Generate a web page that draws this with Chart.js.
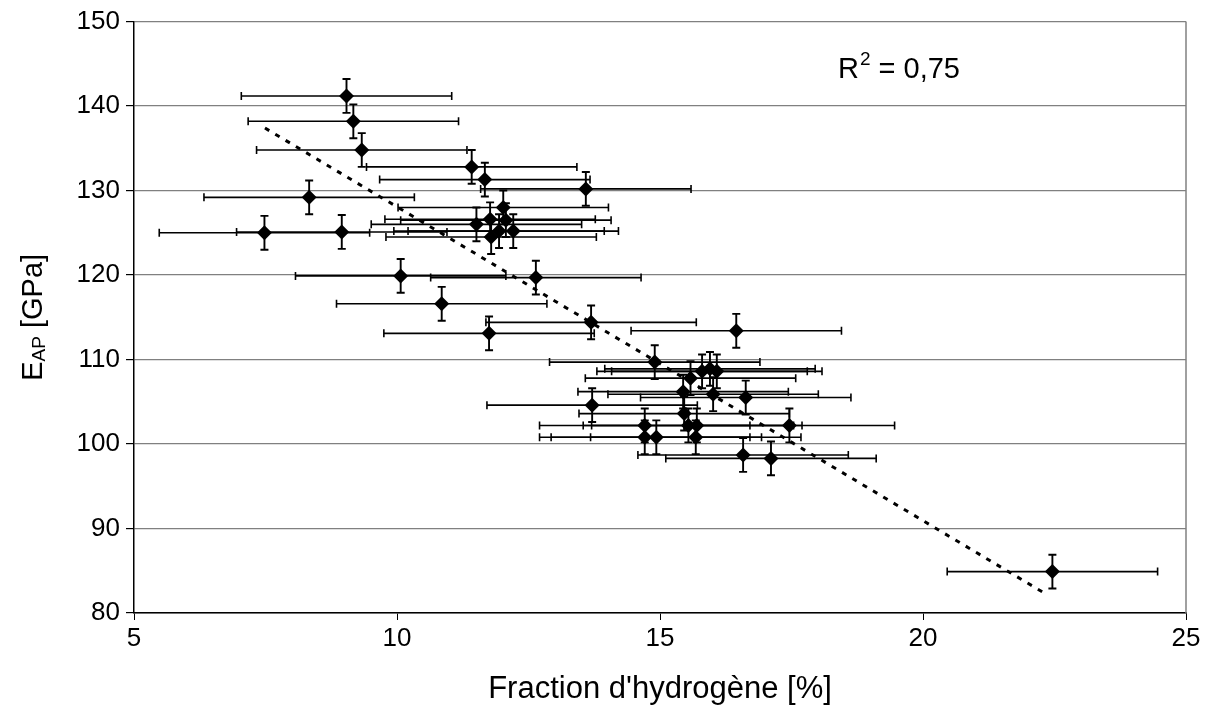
<!DOCTYPE html>
<html lang="fr">
<head>
  <meta charset="UTF-8">
  <title>Module E_AP vs fraction d'hydrogène</title>
  <script src="https://cdn.jsdelivr.net/npm/chart.js"></script>
  <style>
    body { margin: 0; background: #fff; }
    #wrap { width: 1211px; height: 726px; }
  </style>
</head>
<body>
  <div id="wrap"><canvas id="chart" width="1211" height="726"></canvas></div>
  <script>
    // hydrogen fraction [%] and modulus E_AP [GPa]
    const hydrogen = [9.04, 9.17, 9.33, 11.42, 11.67, 8.33, 7.48, 8.95, 13.59, 12.02,
                      11.77, 12.07, 11.51, 11.94, 12.21, 11.79, 10.07, 12.64, 10.85, 11.75,
                      13.69, 14.90, 16.45, 15.58, 15.80, 15.95, 16.08, 15.44, 16.01, 16.63,
                      13.71, 15.46, 14.71, 15.54, 15.70, 17.46, 14.71, 14.93, 15.68, 16.58,
                      17.11, 22.46];
    const modulus  = [141.2, 138.2, 134.8, 132.8, 131.3, 129.2, 125.0, 125.1, 130.2, 128.0,
                      126.6, 126.5, 126.0, 125.2, 125.2, 124.5, 119.9, 119.7, 116.6, 113.1,
                      114.4, 109.7, 113.4, 107.8, 108.6, 108.9, 108.6, 106.2, 105.9, 105.5,
                      104.6, 103.6, 102.2, 102.2, 102.2, 102.2, 100.8, 100.8, 100.8, 98.7,
                      98.3, 84.9];
    const hydrogenErr = 2.0;   // +/- on x
    const modulusErr = 2.0;    // +/- on y

    // linear trend line end points
    const trendX = [7.49, 22.35];
    const trendY = [137.4, 82.2];

    const xTicks = [5, 10, 15, 20, 25];
    const yTicks = [80, 90, 100, 110, 120, 130, 140, 150];
    const r2Text = '= 0,75';

    const FONT = 'Liberation Sans, Arial, sans-serif';
    const TICK_SIZE = 26;
    const TITLE_SIZE = 29;

    // error bars, drawn behind the diamonds
    const errorBars = {
      id: 'errorBars',
      beforeDatasetsDraw(chart) {
        const { ctx, scales: { x, y } } = chart;
        const cap = 4;
        ctx.save();
        ctx.strokeStyle = '#000';
        hydrogen.forEach((h, i) => {
          const px = x.getPixelForValue(h);
          const py = y.getPixelForValue(modulus[i]);
          const x0 = x.getPixelForValue(h - hydrogenErr);
          const x1 = x.getPixelForValue(h + hydrogenErr);
          const y0 = y.getPixelForValue(modulus[i] - modulusErr);
          const y1 = y.getPixelForValue(modulus[i] + modulusErr);
          ctx.lineWidth = 1.6;
          ctx.beginPath();
          ctx.moveTo(x0, py); ctx.lineTo(x1, py);
          ctx.moveTo(x0, py - cap); ctx.lineTo(x0, py + cap);
          ctx.moveTo(x1, py - cap); ctx.lineTo(x1, py + cap);
          ctx.stroke();
          ctx.lineWidth = 1.9;
          ctx.beginPath();
          ctx.moveTo(px, y0); ctx.lineTo(px, y1);
          ctx.moveTo(px - cap, y0); ctx.lineTo(px + cap, y0);
          ctx.moveTo(px - cap, y1); ctx.lineTo(px + cap, y1);
          ctx.stroke();
        });
        // grey frame on the right side of the plot area
        const a = chart.chartArea;
        ctx.strokeStyle = '#808080';
        ctx.lineWidth = 1.5;
        ctx.beginPath();
        ctx.moveTo(a.right, a.top); ctx.lineTo(a.right, a.bottom);
        ctx.stroke();
        ctx.restore();
      }
    };

    // y title with subscript and the R² note
    const extraText = {
      id: 'extraText',
      afterDraw(chart) {
        const { ctx, chartArea: a } = chart;
        const big = TITLE_SIZE + 'px ' + FONT;
        const small = Math.round(TITLE_SIZE * 0.66) + 'px ' + FONT;
        ctx.save();
        ctx.fillStyle = '#000';
        ctx.textBaseline = 'alphabetic';

        // E_AP [GPa]
        ctx.translate(42, (a.top + a.bottom) / 2);
        ctx.rotate(-Math.PI / 2);
        ctx.font = big; const wE = ctx.measureText('E').width;
        ctx.font = small; const wS = ctx.measureText('AP').width;
        ctx.font = big; const wR = ctx.measureText(' [GPa]').width;
        let sx = -(wE + wS + wR) / 2;
        ctx.font = big; ctx.fillText('E', sx, 0); sx += wE;
        ctx.font = small; ctx.fillText('AP', sx, 3); sx += wS;
        ctx.font = big; ctx.fillText(' [GPa]', sx, 0);
        ctx.restore();

        // R² = 0,75
        ctx.save();
        ctx.fillStyle = '#000';
        const bx = 838, by = 78;
        ctx.font = big;
        ctx.fillText('R', bx, by);
        const wRr = ctx.measureText('R').width;
        ctx.font = small;
        ctx.fillText('2', bx + wRr + 1, by - 13);
        const w2 = ctx.measureText('2').width;
        ctx.font = big;
        ctx.fillText(' ' + r2Text, bx + wRr + w2 + 1, by);
        ctx.restore();
      }
    };

    new Chart(document.getElementById('chart'), {
      type: 'scatter',
      data: {
        datasets: [
          {
            label: 'E_AP',
            data: hydrogen.map((h, i) => ({ x: h, y: modulus[i] })),
            pointStyle: 'rectRot',
            pointRadius: 7.5,
            pointHoverRadius: 7.5,
            backgroundColor: '#000',
            borderColor: '#000',
            borderWidth: 0,
            order: 1
          },
          {
            label: 'Tendance',
            type: 'line',
            data: trendX.map((t, i) => ({ x: t, y: trendY[i] })),
            borderColor: '#000',
            borderWidth: 3,
            borderDash: [5, 7],
            pointRadius: 0,
            fill: false,
            order: 2
          }
        ]
      },
      options: {
        responsive: false,
        animation: false,
        layout: { padding: { top: 20, right: 25, left: 0, bottom: 0 } },
        plugins: {
          legend: { display: false },
          tooltip: { enabled: false }
        },
        scales: {
          x: {
            type: 'linear',
            min: 5, max: 25,
            afterBuildTicks: s => { s.ticks = xTicks.map(v => ({ value: v })); },
            afterFit: s => { s.height = 113; },
            grid: { drawOnChartArea: false, tickLength: 7, tickColor: '#000' },
            border: { color: '#000', width: 1.5 },
            ticks: { color: '#000', padding: 3, font: { family: FONT, size: TICK_SIZE } },
            title: {
              display: true,
              text: "Fraction d'hydrogène [%]",
              color: '#000',
              font: { family: FONT, size: 31 },
              padding: { top: 0, bottom: 18 }
            }
          },
          y: {
            min: 80, max: 150,
            afterBuildTicks: s => { s.ticks = yTicks.map(v => ({ value: v })); },
            afterFit: s => { s.width = 134; },
            grid: { color: '#808080', lineWidth: 1.2, tickLength: 8, tickColor: '#000' },
            border: { color: '#000', width: 1.5 },
            ticks: { color: '#000', padding: 6, font: { family: FONT, size: TICK_SIZE } }
          }
        }
      },
      plugins: [errorBars, extraText]
    });
  </script>
</body>
</html>
